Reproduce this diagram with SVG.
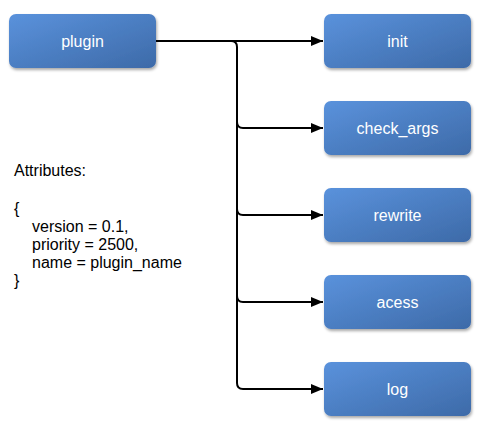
<svg xmlns="http://www.w3.org/2000/svg" width="484" height="429" viewBox="0 0 484 429">
<style>
.box{fill:url(#g);filter:url(#sh);}
.lbl{font-family:"Liberation Sans",Arial,sans-serif;font-size:16px;fill:#fff;text-anchor:middle;dominant-baseline:central;}
.txt{font-family:"Liberation Sans",Arial,sans-serif;font-size:16px;fill:#000;}
.con{fill:none;stroke:#000;stroke-width:2;}
</style>
<defs>
<linearGradient id="g" x1="0" y1="0" x2="1" y2="1">
<stop offset="0" stop-color="#5a92dc"/>
<stop offset="1" stop-color="#3d6aa8"/>
</linearGradient>
<filter id="sh" x="-10%" y="-10%" width="125%" height="140%">
<feGaussianBlur in="SourceAlpha" stdDeviation="1.5"/>
<feOffset dx="1" dy="2" result="b"/>
<feComponentTransfer><feFuncA type="linear" slope="0.35"/></feComponentTransfer>
<feMerge><feMergeNode/><feMergeNode in="SourceGraphic"/></feMerge>
</filter>
<marker id="arr" markerWidth="12" markerHeight="10" refX="12" refY="5" orient="auto" markerUnits="userSpaceOnUse">
<path d="M0,0 L12,5 L0,10 Z" fill="#000"/>
</marker>
</defs>
<rect width="484" height="429" fill="#fff"/>
<g id="connectors">
<path class="con" marker-end="url(#arr)" d="M156,41 H323"/>
<path class="con" marker-end="url(#arr)" d="M231,41 Q237,41 237,47 V122 Q237,128 243,128 H323"/>
<path class="con" marker-end="url(#arr)" d="M237,122 V209 Q237,215 243,215 H323"/>
<path class="con" marker-end="url(#arr)" d="M237,209 V296 Q237,302 243,302 H323"/>
<path class="con" marker-end="url(#arr)" d="M237,296 V383 Q237,389 243,389 H323"/>
</g>
<g id="plugin"><rect class="box" x="9" y="14" width="147" height="54" rx="7"/><text class="lbl" x="82.5" y="41">plugin</text></g>
<g id="init"><rect class="box" x="324" y="14" width="147" height="54" rx="7"/><text class="lbl" x="397.5" y="41">init</text></g>
<g id="check_args"><rect class="box" x="324" y="101" width="147" height="54" rx="7"/><text class="lbl" x="397.5" y="128">check_args</text></g>
<g id="rewrite"><rect class="box" x="324" y="188" width="147" height="54" rx="7"/><text class="lbl" x="397.5" y="215">rewrite</text></g>
<g id="acess"><rect class="box" x="324" y="275" width="147" height="54" rx="7"/><text class="lbl" x="397.5" y="302">acess</text></g>
<g id="log"><rect class="box" x="324" y="362" width="147" height="54" rx="7"/><text class="lbl" x="397.5" y="389">log</text></g>
<g id="attributes">
<text class="txt" x="14" y="176">Attributes:</text>
<text class="txt" x="14" y="214">{</text>
<text class="txt" x="32" y="232">version = 0.1,</text>
<text class="txt" x="32" y="250">priority = 2500,</text>
<text class="txt" x="32" y="268">name = plugin_name</text>
<text class="txt" x="14" y="286">}</text>
</g>
</svg>
